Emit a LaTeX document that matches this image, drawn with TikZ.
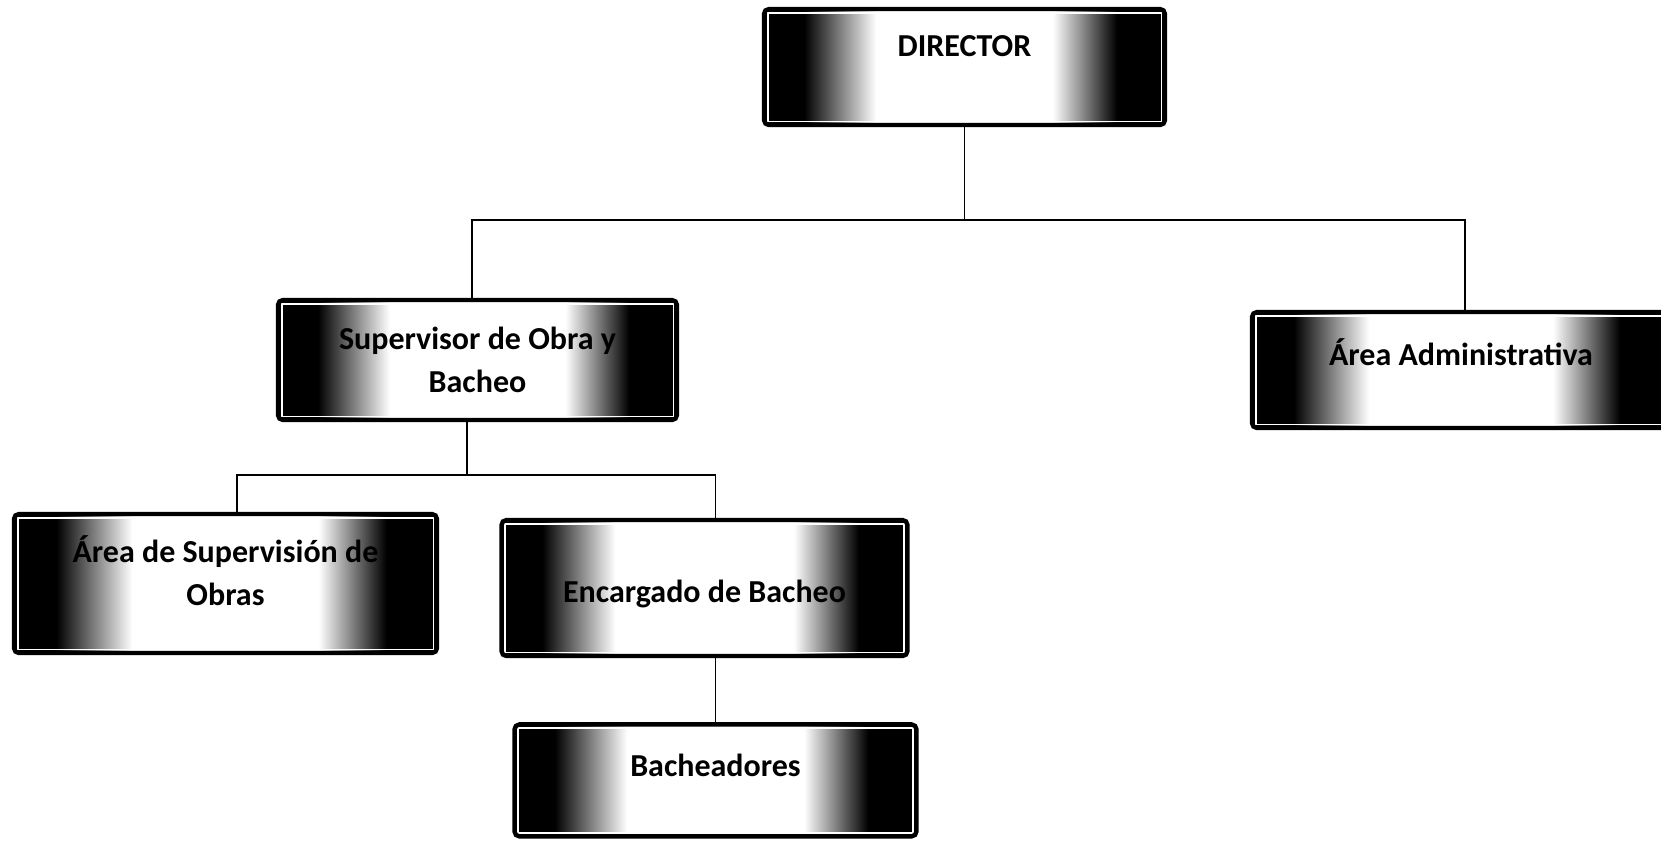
\documentclass[tikz,border=0pt]{standalone}
\usepackage{fontspec}
\setmainfont{Carlito}
\usetikzlibrary{positioning}
\pgfdeclarehorizontalshading{boxfade}{100bp}{color(0bp)=(black); color(30bp)=(black); color(39bp)=(white); color(61bp)=(white); color(69bp)=(black); color(100bp)=(black)}

\begin{document}
\begin{tikzpicture}[
    x=0.5pt, y=0.5pt,
    orgbox/.style={rectangle, draw=black, line width=2.2pt, rounded corners=2.5pt, shading=boxfade, align=center, inner sep=0pt, font=\fontsize{16pt}{21.5pt}\selectfont\bfseries,
        path picture={\draw[white, line width=0.9pt, sharp corners] ([shift={(1.8pt,-1.8pt)}]path picture bounding box.north west) rectangle ([shift={(-1.8pt,1.8pt)}]path picture bounding box.south east);}},
    link/.style={draw=black, line width=0.9pt}
]
\useasboundingbox (0,0) rectangle (1661,-843);
\clip (0,0) rectangle (1661,-843);

% Top level
\node[orgbox, minimum width=200.5pt, minimum height=58pt] (director) at (964.5,-67) {\raisebox{10.5pt}[\height][\depth]{DIRECTOR}};

% Second level
\node[orgbox, minimum width=199.5pt, minimum height=60pt] (sup) at (477.5,-360) {Supervisor de Obra y\\Bacheo};
\node[orgbox, minimum width=209pt, minimum height=58pt] (admin) at (1461,-370) {\raisebox{9pt}[\height][\depth]{Área Administrativa}};

% Third level
\node[orgbox, minimum width=211.5pt, minimum height=69.5pt] (areasup) at (225.5,-583.5) {\raisebox{4.25pt}[\height][\depth]{\begin{tabular}{@{}c@{}}Área de Supervisión de\\Obras\end{tabular}}};
\node[orgbox, minimum width=203pt, minimum height=68pt] (enc) at (704.5,-588) {\raisebox{-3pt}[\height][\depth]{Encargado de Bacheo}};

% Fourth level
\node[orgbox, minimum width=201pt, minimum height=56pt, below=32pt of enc, xshift=5.5pt] (bach) {\raisebox{7.5pt}[\height][\depth]{Bacheadores}};

% Director to second level
\draw[link] (director.south) -- ++(0,-93) coordinate (dirbus);
\draw[link] (dirbus) -| ([xshift=-2.75pt]sup.north);
\draw[link] (dirbus) -| ([xshift=2pt]admin.north);

% Supervisor to its areas
\draw[link] ([xshift=-5.25pt]sup.south) -- ++(0,-53) coordinate (supbus);
\draw[link] (supbus) -| ([xshift=5.75pt]areasup.north);
\draw[link] (supbus) -| ([xshift=5.5pt]enc.north);

% Encargado to Bacheadores
\draw[link] (bach.north) -- (bach.north |- enc.south);

\end{tikzpicture}
\end{document}
